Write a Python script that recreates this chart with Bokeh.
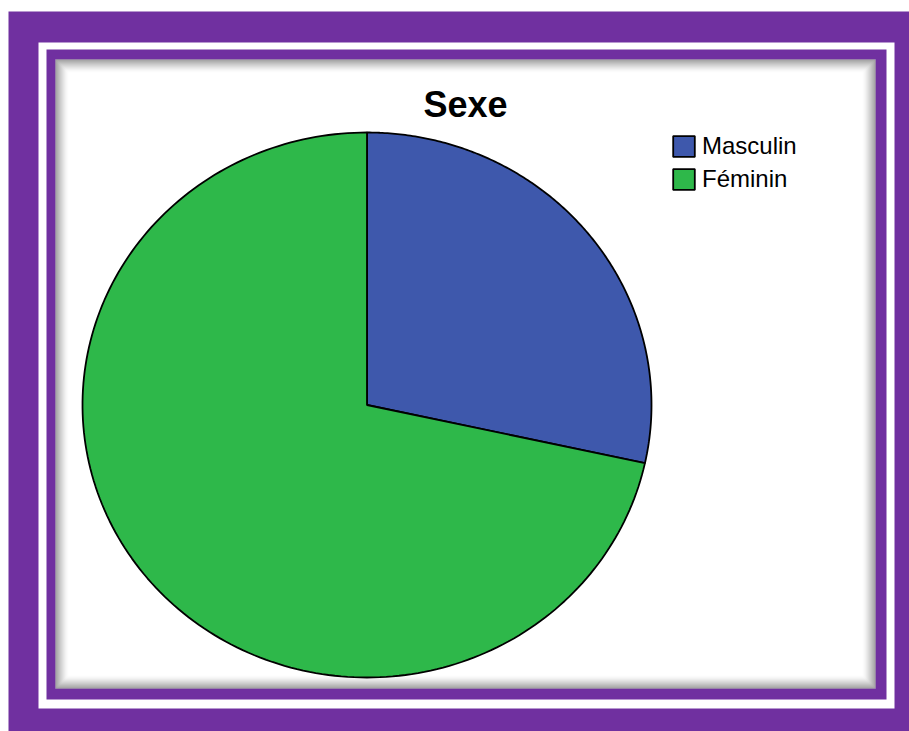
import numpy as np
from bokeh.plotting import figure
from bokeh.models import Range1d, Legend, LegendItem
from bokeh.core.properties import value
from bokeh.embed import file_html
from bokeh.resources import INLINE

# ---- data ----
categories = ["Masculin", "Féminin"]
counts = [27, 68]
colors = ["#3E58AC", "#2EB84A"]
title_text = "Sexe"

PURPLE = "#7030A0"
W, H = 909, 731

p = figure(width=W, height=H, output_backend="svg", toolbar_location=None,
           x_range=Range1d(0, W), y_range=Range1d(H, 0),
           min_border=0, outline_line_color=None,
           background_fill_color="white", border_fill_color="white")
p.axis.visible = False
p.grid.visible = False

# ---- frame ----
p.quad(left=8, right=W, top=11, bottom=H, fill_color=PURPLE, line_color=None)
p.quad(left=38, right=894, top=42, bottom=708, fill_color="white", line_color=None)
p.quad(left=46, right=886, top=49, bottom=699, fill_color=PURPLE, line_color=None)
p.quad(left=55, right=875, top=59, bottom=688, fill_color="white", line_color=None)
# inner shadow
n = 13
for i in range(n):
    a = 0.62 * (1 - i / n) ** 1.6
    p.quad(left=55 + i + 0.5, right=875 - i - 0.5, top=59 + i + 0.5,
           bottom=688 - i - 0.5, fill_alpha=0, line_color="#505050",
           line_alpha=a, line_width=1)

# ---- pie ----
cx, cy = 366.5, 404.5
rx, ry = 284.5, 272.5
total = float(sum(counts))
start = np.pi / 2
renderers = []
for cat, c, col in zip(categories, counts, colors):
    sweep = 2 * np.pi * c / total
    t = np.linspace(start, start - sweep, 200)
    xs = np.concatenate([[cx], cx + rx * np.cos(t), [cx]])
    ys = np.concatenate([[cy], cy - ry * np.sin(t), [cy]])
    r = p.patch(xs, ys, fill_color=col, line_color="black", line_width=1.8)
    renderers.append((cat, r))
    start -= sweep

# ---- title ----
p.text(x=[465], y=[104], text=[title_text], text_align="center",
       text_baseline="middle", text_font=value("Liberation Sans"),
       text_font_style="bold", text_font_size="36px", text_color="black")

# ---- legend ----
legend = Legend(items=[LegendItem(label=c, renderers=[r]) for c, r in renderers],
                location=(670, H - 193), orientation="vertical",
                glyph_width=27, glyph_height=26, spacing=5, padding=0, margin=0,
                label_standoff=5, label_text_font="Liberation Sans",
                label_text_font_size="24px", label_text_color="black",
                label_height=26,
                border_line_color=None, background_fill_alpha=0)
p.add_layout(legend, "center")

open("out.html", "w").write(file_html(p, INLINE))
